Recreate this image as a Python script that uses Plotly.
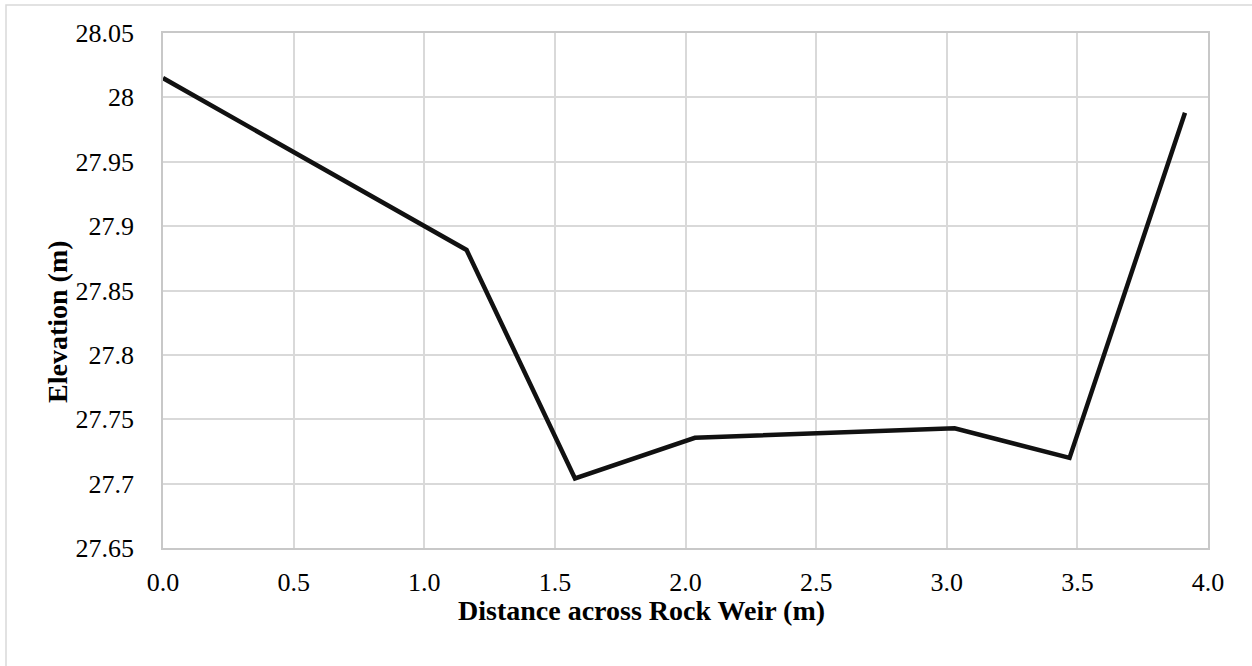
import plotly.graph_objects as go

# Cross-section survey of the rock weir
distance_m = [0.0, 1.162, 1.577, 2.036, 3.03, 3.47, 3.912]
elevation_m = [28.015, 27.8815, 27.704, 27.7356, 27.743, 27.720, 27.988]

y_ticks = [27.65, 27.7, 27.75, 27.8, 27.85, 27.9, 27.95, 28.0, 28.05]
y_tick_text = ["27.65", "27.7", "27.75", "27.8", "27.85", "27.9", "27.95", "28", "28.05"]
x_ticks = [0.0, 0.5, 1.0, 1.5, 2.0, 2.5, 3.0, 3.5, 4.0]
x_tick_text = ["0.0", "0.5", "1.0", "1.5", "2.0", "2.5", "3.0", "3.5", "4.0"]

FONT = "Liberation Serif, Times New Roman, serif"
GRID = "#d9d9d9"

W, H = 1252, 666
L, R, T, B = 163, 44, 33, 118
PW, PH = W - L - R, H - T - B


def px_x(px):
    return (px - L) / PW


def px_y(py):
    return (H - B - py) / PH


fig = go.Figure()
fig.add_trace(go.Scatter(
    x=distance_m, y=elevation_m, mode="lines",
    line=dict(color="#111111", width=4.5),
    showlegend=False, hoverinfo="skip",
))

fig.update_layout(
    width=W, height=H,
    margin=dict(l=L, r=R, t=T, b=B),
    paper_bgcolor="white", plot_bgcolor="white",
    font=dict(family=FONT, size=26, color="#000000"),
)

fig.update_xaxes(
    range=[0, 4], tickvals=x_ticks, ticktext=x_tick_text,
    showgrid=True, gridcolor=GRID, gridwidth=1.5,
    showline=True, linecolor="#c8c8c8", linewidth=1.5, mirror=True,
    zeroline=False, ticks="", ticklabelstandoff=10,
    tickfont=dict(family=FONT, size=26),
)
fig.update_yaxes(
    range=[27.65, 28.05], tickvals=y_ticks, ticktext=y_tick_text,
    showgrid=True, gridcolor=GRID, gridwidth=1.5,
    showline=True, linecolor="#c8c8c8", linewidth=1.5, mirror=True,
    zeroline=False, ticks="", ticklabelstandoff=22,
    tickfont=dict(family=FONT, size=26),
)

# Axis titles
fig.add_annotation(
    text="<b>Distance across Rock Weir (m)</b>", showarrow=False,
    xref="paper", yref="paper", x=px_x(641), y=px_y(610),
    xanchor="center", yanchor="middle",
    font=dict(family=FONT, size=28, color="#000000"),
)
fig.add_annotation(
    text="<b>Elevation (m)</b>", showarrow=False, textangle=-90,
    xref="paper", yref="paper", x=px_x(57), y=px_y(322),
    xanchor="center", yanchor="middle",
    font=dict(family=FONT, size=28, color="#000000"),
)

# Chart-area frame
fig.add_shape(type="rect", xref="paper", yref="paper",
              x0=px_x(6), x1=1.5, y0=-2, y1=px_y(5),
              line=dict(color="#d9d9d9", width=1.5), layer="below")

fig.write_html("out.html")
